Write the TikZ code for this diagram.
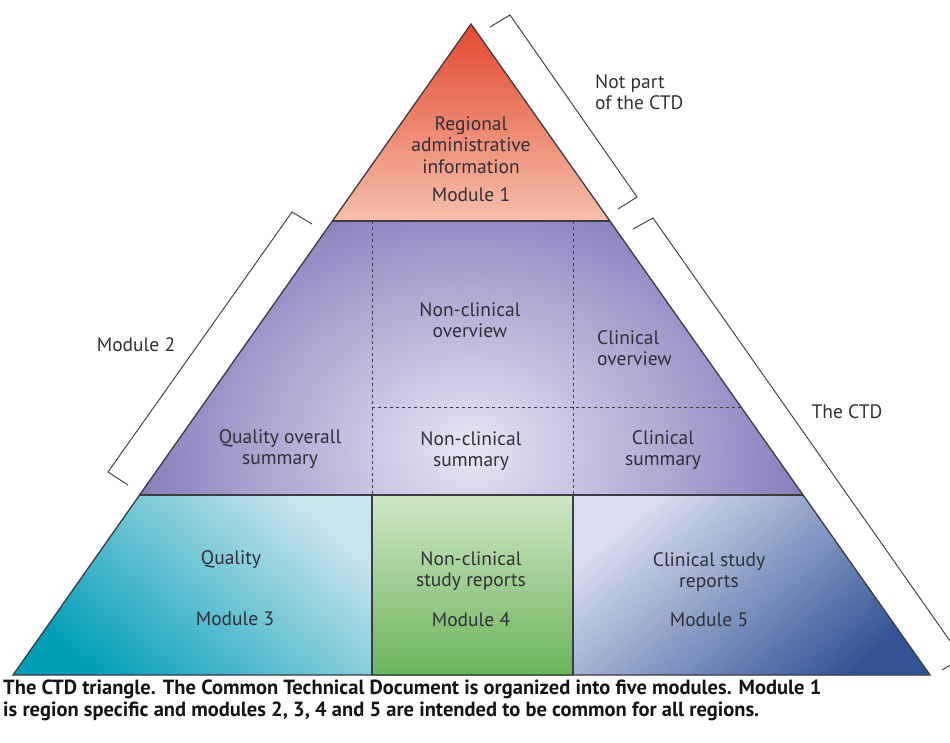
\documentclass[tikz,border=0pt]{standalone}
\usepackage{fontspec}
\setmainfont{PT Sans}
\definecolor{txt}{RGB}{50,47,55}
\definecolor{linegray}{RGB}{60,58,66}
\definecolor{brk}{RGB}{70,70,74}
\definecolor{m1top}{RGB}{228,72,48}
\definecolor{m1bot}{RGB}{246,192,172}
\definecolor{m2in}{RGB}{232,230,244}
\definecolor{m2out}{RGB}{124,114,182}
\definecolor{m3light}{RGB}{200,228,236}
\definecolor{m3dark}{RGB}{0,158,184}
\definecolor{m4top}{RGB}{208,230,198}
\definecolor{m4bot}{RGB}{108,180,92}
\definecolor{m5light}{RGB}{218,222,240}
\definecolor{m5dark}{RGB}{50,84,150}

\begin{document}
\begin{tikzpicture}[x=1pt,y=-1pt,
  lbl/.style={font=\fontsize{19.5}{21.5}\selectfont, text=txt, align=center, inner sep=0pt},
  edge/.style={draw=linegray, line width=1.3pt, line join=miter},
  split/.style={draw=linegray, line width=1pt, dash pattern=on 3pt off 3pt},
  bracket/.style={draw=brk, line width=1pt}]
\useasboundingbox (0,0) rectangle (950,742);
\clip (0,0) rectangle (950,742);

% corners of the triangle and its bands
\coordinate (apex) at (471,24);
\coordinate (bl) at (13,675);
\coordinate (br) at (930,675);
\coordinate (m1l) at (332,221);
\coordinate (m1r) at (610,221);
\coordinate (m2l) at (139,495);
\coordinate (m2r) at (803,495);
\coordinate (c1t) at (372,221);
\coordinate (c1m) at (372,495);
\coordinate (c1b) at (372,675);
\coordinate (c2t) at (573,221);
\coordinate (c2m) at (573,495);
\coordinate (c2b) at (573,675);
\coordinate (dl) at (372,407);
\coordinate (dr) at (741,407);

% fills
\shade[top color=m1top, bottom color=m1bot] (apex) -- (m1r) -- (m1l) -- cycle;
\begin{scope}
  \clip (m1l) -- (m1r) -- (m2r) -- (m2l) -- cycle;
  \shade[inner color=m2in, outer color=m2out] (100,150) rectangle (840,750);
\end{scope}
\shade[top color=m3light, bottom color=m3dark, shading angle=-40] (m2l) -- (c1m) -- (c1b) -- (bl) -- cycle;
\shade[top color=m4top, bottom color=m4bot] (c1m) -- (c2m) -- (c2b) -- (c1b) -- cycle;
\shade[top color=m5light, bottom color=m5dark, shading angle=40] (c2m) -- (m2r) -- (br) -- (c2b) -- cycle;

% lines
\draw[edge] (apex) -- (br) -- (bl) -- cycle;
\draw[edge] (m1l) -- (m1r);
\draw[edge] (m2l) -- (m2r);
\draw[edge] (c1m) -- (c1b);
\draw[edge] (c2m) -- (c2b);
\draw[split] (c1t) -- (c1m);
\draw[split] (c2t) -- (c2m);
\draw[split] (dl) -- (dr);

% labels
\node[lbl] (regional) at (471,145) {Regional\\administrative\\information};
\node[lbl] (mod1) at (471,195) {Module 1};
\node[lbl] (qos) at (280,449) {Quality overall\\summary};
\node[lbl] (ncov) at (470,320) {Non-clinical\\overview};
\node[lbl, align=left, anchor=west] (cov) at (597,348) {Clinical\\overview};
\node[lbl] (ncsum) at (471,451) {Non-clinical\\summary};
\node[lbl] (csum) at (663,450) {Clinical\\summary};
\node[lbl] (quality) at (231,560) {Quality};
\node[lbl] (mod3) at (235,619) {Module 3};
\node[lbl] (ncsr) at (471,571) {Non-clinical\\study reports};
\node[lbl] (mod4) at (471,620) {Module 4};
\node[lbl] (csr) at (709,572) {Clinical study\\reports};
\node[lbl] (mod5) at (709,620) {Module 5};

% brackets
\coordinate (n1) at (490,27);
\coordinate (n2) at (510,15);
\coordinate (n3) at (637,197);
\coordinate (n4) at (618,209);
\draw[bracket] (n1) -- (n2) -- (n3) -- (n4);
\node[lbl, align=left, anchor=west] (notpart) at (595,92) {Not part\\of the CTD};

\coordinate (q1) at (312,224);
\coordinate (q2) at (292,212);
\coordinate (q3) at (108,472);
\coordinate (q4) at (128,485);
\draw[bracket] (q1) -- (q2) -- (q3) -- (q4);
\node[lbl] (mod2) at (136,345) {Module 2};

\coordinate (t1) at (633,229);
\coordinate (t2) at (653,218);
\coordinate (t3) at (962,658);
\coordinate (t4) at (942,670);
\draw[bracket] (t1) -- (t2) -- (t3) -- (t4);
\node[lbl] (ctd) at (847,412) {The CTD};

% caption
\node[font=\bfseries\fontsize{20.5}{22}\selectfont, text=black!92, align=left, anchor=north west, inner sep=0pt] (caption) at (3,680)
  {The CTD triangle. The Common Technical Document is organized into five modules. Module 1\\is region specific and modules 2, 3, 4 and 5 are intended to be common for all regions.};
\end{tikzpicture}
\end{document}
